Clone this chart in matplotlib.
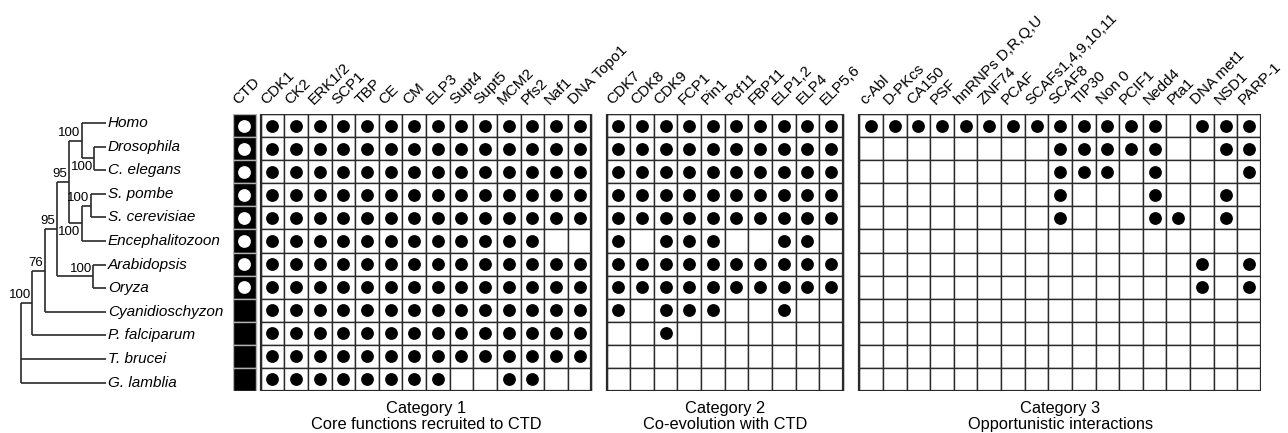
import matplotlib
matplotlib.use("Agg")
import matplotlib.pyplot as plt
from matplotlib.patches import Rectangle

plt.rcParams['font.family'] = ['Liberation Sans', 'DejaVu Sans']

species = ["Homo", "Drosophila", "C. elegans", "S. pombe", "S. cerevisiae",
           "Encephalitozoon", "Arabidopsis", "Oryza", "Cyanidioschyzon",
           "P. falciparum", "T. brucei", "G. lamblia"]

# CTD: 1 = canonical CTD (white dot), 0 = no canonical CTD
ctd = [1, 1, 1, 1, 1, 1, 1, 1, 0, 0, 0, 0]

cat1_labels = ["CDK1", "CK2", "ERK1/2", "SCP1", "TBP", "CE", "CM", "ELP3",
               "Supt4", "Supt5", "MCM2", "Pfs2", "Naf1", "DNA Topo1"]
cat1 = [
    [1, 1, 1, 1, 1, 1, 1, 1, 1, 1, 1, 1, 1, 1],
    [1, 1, 1, 1, 1, 1, 1, 1, 1, 1, 1, 1, 1, 1],
    [1, 1, 1, 1, 1, 1, 1, 1, 1, 1, 1, 1, 1, 1],
    [1, 1, 1, 1, 1, 1, 1, 1, 1, 1, 1, 1, 1, 1],
    [1, 1, 1, 1, 1, 1, 1, 1, 1, 1, 1, 1, 1, 1],
    [1, 1, 1, 1, 1, 1, 1, 1, 1, 1, 1, 1, 0, 0],
    [1, 1, 1, 1, 1, 1, 1, 1, 1, 1, 1, 1, 1, 1],
    [1, 1, 1, 1, 1, 1, 1, 1, 1, 1, 1, 1, 1, 1],
    [1, 1, 1, 1, 1, 1, 1, 1, 1, 1, 1, 1, 1, 1],
    [1, 1, 1, 1, 1, 1, 1, 1, 1, 1, 1, 1, 1, 1],
    [1, 1, 1, 1, 1, 1, 1, 1, 1, 1, 1, 1, 1, 1],
    [1, 1, 1, 1, 1, 1, 1, 1, 0, 0, 1, 1, 0, 0],
]

cat2_labels = ["CDK7", "CDK8", "CDK9", "FCP1", "Pin1", "Pcf11", "FBP11",
               "ELP1,2", "ELP4", "ELP5,6"]
cat2 = [
    [1, 1, 1, 1, 1, 1, 1, 1, 1, 1],
    [1, 1, 1, 1, 1, 1, 1, 1, 1, 1],
    [1, 1, 1, 1, 1, 1, 1, 1, 1, 1],
    [1, 1, 1, 1, 1, 1, 1, 1, 1, 1],
    [1, 1, 1, 1, 1, 1, 1, 1, 1, 1],
    [1, 0, 1, 1, 1, 0, 0, 1, 1, 0],
    [1, 1, 1, 1, 1, 1, 1, 1, 1, 1],
    [1, 1, 1, 1, 1, 1, 1, 1, 1, 1],
    [1, 0, 1, 1, 1, 0, 0, 1, 0, 0],
    [0, 0, 1, 0, 0, 0, 0, 0, 0, 0],
    [0, 0, 0, 0, 0, 0, 0, 0, 0, 0],
    [0, 0, 0, 0, 0, 0, 0, 0, 0, 0],
]

cat3_labels = ["c-Abl", "D-PKcs", "CA150", "PSF", "hnRNPs D,R,Q,U", "ZNF74",
               "PCAF", "SCAFs1,4,9,10,11", "SCAF8", "TIP30", "Non 0", "PCIF1",
               "Nedd4", "Pta1", "DNA met1", "NSD1", "PARP-1"]
cat3 = [
    [1, 1, 1, 1, 1, 1, 1, 1, 1, 1, 1, 1, 1, 0, 1, 1, 1],
    [0, 0, 0, 0, 0, 0, 0, 0, 1, 1, 1, 1, 1, 0, 0, 1, 1],
    [0, 0, 0, 0, 0, 0, 0, 0, 1, 1, 1, 0, 1, 0, 0, 0, 1],
    [0, 0, 0, 0, 0, 0, 0, 0, 1, 0, 0, 0, 1, 0, 0, 1, 0],
    [0, 0, 0, 0, 0, 0, 0, 0, 1, 0, 0, 0, 1, 1, 0, 1, 0],
    [0, 0, 0, 0, 0, 0, 0, 0, 0, 0, 0, 0, 0, 0, 0, 0, 0],
    [0, 0, 0, 0, 0, 0, 0, 0, 0, 0, 0, 0, 0, 0, 1, 0, 1],
    [0, 0, 0, 0, 0, 0, 0, 0, 0, 0, 0, 0, 0, 0, 1, 0, 1],
    [0, 0, 0, 0, 0, 0, 0, 0, 0, 0, 0, 0, 0, 0, 0, 0, 0],
    [0, 0, 0, 0, 0, 0, 0, 0, 0, 0, 0, 0, 0, 0, 0, 0, 0],
    [0, 0, 0, 0, 0, 0, 0, 0, 0, 0, 0, 0, 0, 0, 0, 0, 0],
    [0, 0, 0, 0, 0, 0, 0, 0, 0, 0, 0, 0, 0, 0, 0, 0, 0],
]

cat_titles = ["Category 1\nCore functions recruited to CTD",
              "Category 2\nCo-evolution with CTD",
              "Category 3\nOpportunistic interactions"]

# tree: (node, depth, children, bootstrap, label above stem)
leaf_depth = 106
tree_nodes = [
    ("dc", 94.3, [1, 2], "100", False),
    ("hdc", 81.7, [0, "dc"], "100", True),
    ("sp", 90.7, [3, 4], "100", True),
    ("spe", 81.7, ["sp", 5], "100", False),
    ("opi", 69.0, ["hdc", "spe"], "95", True),
    ("ao", 93.3, [6, 7], "100", True),
    ("op", 57.0, ["opi", "ao"], "95", True),
    ("cy", 45.0, ["op", 8], "76", True),
    ("pf", 32.3, ["cy", 9], "100", True),
    ("root", 20.7, ["pf", 10, 11], None, True),
]

W, H = 1288, 433
fig = plt.figure(figsize=(W / 100, H / 100), dpi=100)
line_c = "#2a2a2a"

# ---- tree
axt = fig.add_axes([0, (H - 394.4) / H, 233 / W, 283.2 / H])
axt.set_xlim(0, 233)
axt.set_ylim(11.5, -0.5)
axt.axis("off")

pos = {i: (leaf_depth, i) for i in range(len(species))}
for name, depth, kids, boot, above in tree_nodes:
    ys = [pos[k][1] for k in kids]
    y = (ys[0] + ys[-1]) / 2
    pos[name] = (depth, y)
    axt.plot([depth, depth], [ys[0], ys[-1]], color=line_c, lw=1.2,
             solid_capstyle="butt")
    for k in kids:
        axt.plot([depth, pos[k][0]], [pos[k][1], pos[k][1]], color=line_c,
                 lw=1.2, solid_capstyle="butt")
for name, depth, kids, boot, above in tree_nodes:
    if boot is None:
        continue
    # label sits on the stem that leads into the node
    y = pos[name][1]
    axt.text(depth - 1.5, y - 0.08 if above else y + 0.12, boot,
             ha="right", va="bottom" if above else "top", fontsize=9.5)
for i, sp in enumerate(species):
    axt.text(leaf_depth + 2, i, sp, ha="left", va="center", fontsize=11,
             style="italic")

# ---- grid
ax = fig.add_axes([233 / W, (H - 391) / H, 1028 / W, 277 / H])
ax.set_xlim(0, 43.51)
ax.set_ylim(11.5, -0.5)
ax.axis("off")

lab_fs = 11
nrow = len(species)
# CTD column
for i in range(nrow):
    ax.add_patch(Rectangle((0, i - 0.5), 0.97, 1, facecolor="black",
                           edgecolor="#b0b0b0", lw=1.0))
ctd_rows = [i for i in range(nrow) if ctd[i]]
ax.scatter([0.485] * len(ctd_rows), ctd_rows, s=85, color="white", zorder=3,
           linewidths=0)
ax.text(0.485 - 0.25, -0.5 - 0.38, "CTD", rotation=45, rotation_mode="anchor",
        ha="left", va="baseline", fontsize=lab_fs)

cats = [(1.17, cat1_labels, cat1), (15.81, cat2_labels, cat2),
        (26.51, cat3_labels, cat3)]
for (left, labels, mat), title in zip(cats, cat_titles):
    ncol = len(labels)
    for i in range(nrow):
        for j in range(ncol):
            ax.add_patch(Rectangle((left + j, i - 0.5), 1, 1,
                                   facecolor="white", edgecolor=line_c,
                                   lw=1.0))
    ax.add_patch(Rectangle((left, -0.5), ncol, nrow, fill=False,
                           edgecolor=line_c, lw=1.6, zorder=2))
    xs = [left + j + 0.5 for i in range(nrow) for j in range(ncol) if mat[i][j]]
    ys = [i for i in range(nrow) for j in range(ncol) if mat[i][j]]
    ax.scatter(xs, ys, s=85, color="black", zorder=3, linewidths=0)
    for j, lab in enumerate(labels):
        ax.text(left + j + 0.5 - 0.25, -0.5 - 0.38, lab, rotation=45,
                rotation_mode="anchor", ha="left", va="baseline",
                fontsize=lab_fs)
    ax.text(left + ncol / 2, 11.5 + 0.45, title, ha="center", va="top",
            fontsize=11.8, linespacing=1.05)

fig.savefig("out.png", dpi=100)
